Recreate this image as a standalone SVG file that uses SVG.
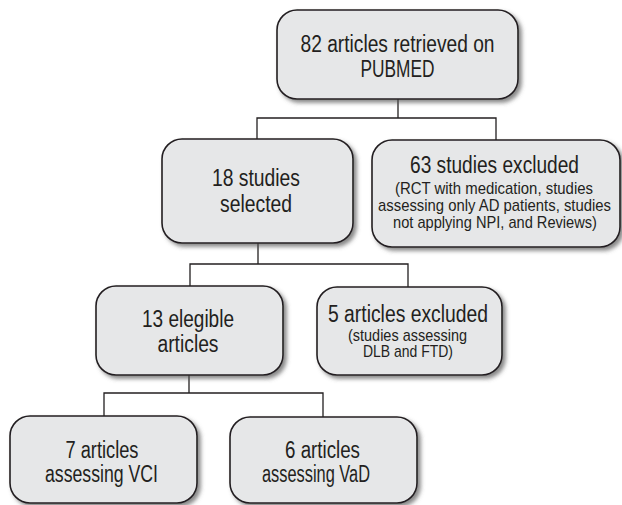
<svg xmlns="http://www.w3.org/2000/svg" width="622" height="505" viewBox="0 0 622 505">
<style>
.box{fill:#e6e7e8;stroke:#231f20;stroke-width:1.6;filter:url(#sh)}
.ln{fill:none;stroke:#231f20;stroke-width:1.3}
text{font-family:"Liberation Sans",Arial,sans-serif;fill:#231f20;text-anchor:middle}
.m{font-size:23.5px}
.s{font-size:17px}
</style>
<defs>
<filter id="sh" x="-10%" y="-10%" width="130%" height="130%">
<feDropShadow dx="3" dy="3" stdDeviation="2" flood-color="#555" flood-opacity="0.7"/>
</filter>
</defs>
<g id="connectors">
<polyline class="ln" points="398,99 398,118"/>
<polyline class="ln" points="257,139 257,118 496,118 496,140"/>
<polyline class="ln" points="258,243 258,264"/>
<polyline class="ln" points="190,286 190,264 408,264 408,287"/>
<polyline class="ln" points="189,375 189,393"/>
<polyline class="ln" points="104,416 104,393 323,393 323,417"/>
</g>
<g id="n1">
<rect class="box" x="277" y="10" width="241" height="89" rx="20"/>
<text class="m" x="397.5" y="52" textLength="194" lengthAdjust="spacingAndGlyphs">82 articles retrieved on</text>
<text class="m" x="397.5" y="77" textLength="74" lengthAdjust="spacingAndGlyphs">PUBMED</text>
</g>
<g id="n2">
<rect class="box" x="162" y="139" width="191" height="104" rx="20"/>
<text class="m" x="256" y="186" textLength="88" lengthAdjust="spacingAndGlyphs">18 studies</text>
<text class="m" x="256" y="212" textLength="72" lengthAdjust="spacingAndGlyphs">selected</text>
</g>
<g id="n3">
<rect class="box" x="372" y="140" width="248" height="107" rx="20"/>
<text class="m" x="494.5" y="173" textLength="169" lengthAdjust="spacingAndGlyphs">63 studies excluded</text>
<text class="s" x="494" y="194" textLength="198" lengthAdjust="spacingAndGlyphs">(RCT with medication, studies</text>
<text class="s" x="494.5" y="211" textLength="233" lengthAdjust="spacingAndGlyphs">assessing only AD patients, studies</text>
<text class="s" x="495" y="228" textLength="204" lengthAdjust="spacingAndGlyphs">not applying NPI, and Reviews)</text>
</g>
<g id="n4">
<rect class="box" x="96" y="286" width="187" height="89" rx="20"/>
<text class="m" x="188" y="327" textLength="92" lengthAdjust="spacingAndGlyphs">13 elegible</text>
<text class="m" x="188" y="352" textLength="61" lengthAdjust="spacingAndGlyphs">articles</text>
</g>
<g id="n5">
<rect class="box" x="317" y="287" width="185" height="88" rx="20"/>
<text class="m" x="408" y="322" textLength="160" lengthAdjust="spacingAndGlyphs">5 articles excluded</text>
<text class="s" x="407.5" y="341" textLength="119" lengthAdjust="spacingAndGlyphs">(studies assessing</text>
<text class="s" x="408" y="357" textLength="90" lengthAdjust="spacingAndGlyphs">DLB and FTD)</text>
</g>
<g id="n6">
<rect class="box" x="10" y="416" width="187" height="87" rx="20"/>
<text class="m" x="102" y="458" textLength="73" lengthAdjust="spacingAndGlyphs">7 articles</text>
<text class="m" x="101.5" y="482" textLength="113" lengthAdjust="spacingAndGlyphs">assessing VCI</text>
</g>
<g id="n7">
<rect class="box" x="230" y="417" width="187" height="86" rx="20"/>
<text class="m" x="322.5" y="458" textLength="75" lengthAdjust="spacingAndGlyphs">6 articles</text>
<text class="m" x="316" y="482" textLength="108" lengthAdjust="spacingAndGlyphs">assessing VaD</text>
</g>
</svg>
